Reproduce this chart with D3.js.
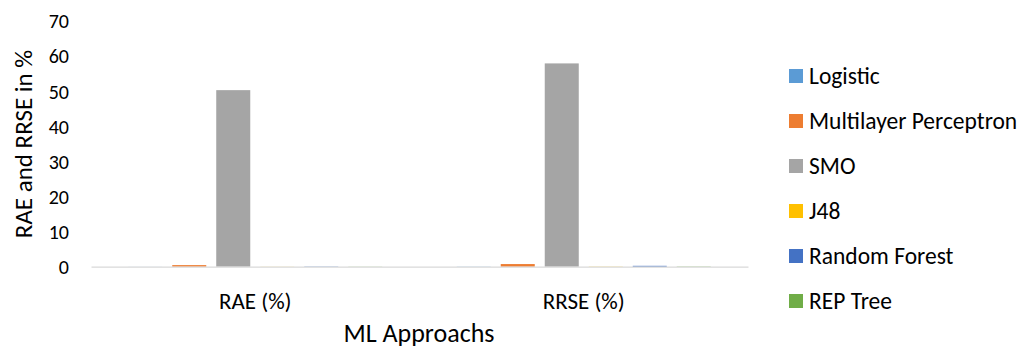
<!DOCTYPE html>
<html>
<head>
<meta charset="utf-8">
<script src="https://cdn.jsdelivr.net/npm/d3@7"></script>
<style>
  html, body { margin: 0; padding: 0; background: #fff; }
  svg text { font-family: Carlito, Lato, "Open Sans", sans-serif; fill: #000; }
</style>
</head>
<body>
<svg id="chart" width="1027" height="350"></svg>
<script>
// Error measures per classifier
const categories = ["RAE (%)", "RRSE (%)"];
const seriesNames = ["Logistic", "Multilayer Perceptron", "SMO", "J48", "Random Forest", "REP Tree"];
const logistic = [0.02, 0.05];
const multilayerPerceptron = [0.45, 0.75];
const smo = [50.2, 57.8];
const j48 = [0.03, 0.06];
const randomForest = [0.08, 0.25];
const repTree = [0.04, 0.08];
const yTicks = [0, 10, 20, 30, 40, 50, 60, 70];

const seriesValues = [logistic, multilayerPerceptron, smo, j48, randomForest, repTree];
const colors = ["#5b9bd5", "#ed7d31", "#a5a5a5", "#ffc000", "#4472c4", "#70ad47"];

const svg = d3.select("#chart");
const plot = { left: 91, right: 748, top: 20.5, bottom: 266.7 };

const x0 = d3.scaleBand().domain(categories).range([plot.left, plot.right]);
const x1 = d3.scaleBand().domain(seriesNames)
  .range([x0.bandwidth() / 2 - 132, x0.bandwidth() / 2 + 132])
  .paddingInner(0.227).paddingOuter(0.1135);
const y = d3.scaleLinear().domain([0, 70]).range([plot.bottom, plot.top]);
const color = d3.scaleOrdinal().domain(seriesNames).range(colors);

// Bars
const groups = svg.append("g").selectAll("g")
  .data(categories)
  .join("g")
  .attr("transform", c => `translate(${x0(c)},0)`);

groups.selectAll("rect")
  .data((c, ci) => seriesNames.map((s, si) => ({ s, v: seriesValues[si][ci] })))
  .join("rect")
  .attr("x", d => x1(d.s))
  .attr("width", x1.bandwidth())
  .attr("y", d => y(d.v))
  .attr("height", d => y(0) - y(d.v))
  .attr("fill", d => color(d.s));

// Y axis (labels only)
const yAxis = d3.axisLeft(y).tickValues(yTicks).tickSize(0).tickPadding(0);
const gy = svg.append("g").attr("transform", "translate(69,0)").call(yAxis);
gy.select(".domain").remove();
gy.selectAll("text").style("font-size", "20px").attr("dy", "0.36em");

// X axis
const xAxis = d3.axisBottom(x0).tickSize(0).tickPadding(0);
const gx = svg.append("g").attr("transform", `translate(0,${plot.bottom})`).call(xAxis);
gx.select(".domain").attr("stroke", "#d9d9d9").attr("stroke-width", 1.3);
gx.selectAll("text").style("font-size", "23px").attr("y", 42.5).attr("dy", 0);

// Axis titles
svg.append("text")
  .attr("transform", "translate(32,144) rotate(-90)")
  .attr("text-anchor", "middle")
  .style("font-size", "25px")
  .text("RAE and RRSE in %");

svg.append("text")
  .attr("x", 419).attr("y", 342)
  .attr("text-anchor", "middle")
  .style("font-size", "26px")
  .text("ML Approachs");

// Legend
const legend = svg.append("g").selectAll("g")
  .data(seriesNames)
  .join("g")
  .attr("transform", (d, i) => `translate(789,${76 + i * 45})`);
legend.append("rect")
  .attr("x", 0).attr("y", -7)
  .attr("width", 14).attr("height", 14)
  .attr("fill", d => color(d));
legend.append("text")
  .attr("x", 20).attr("y", 8)
  .style("font-size", "23.5px")
  .text(d => d);
</script>
</body>
</html>
